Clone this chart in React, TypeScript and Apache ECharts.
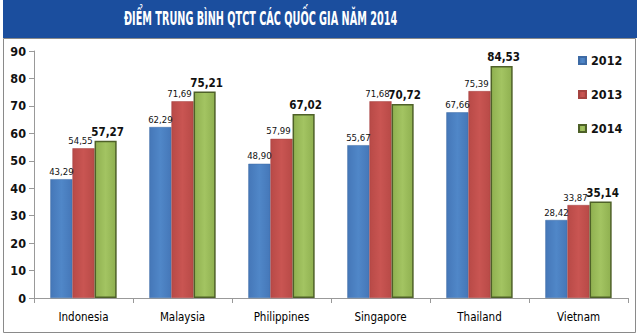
import React, { useEffect, useRef } from "react";
import * as echarts from "echarts";

const categories = ["Indonesia", "Malaysia", "Philippines", "Singapore", "Thailand", "Vietnam"];
const years = ["2012", "2013", "2014"];
const values2012 = [43.29, 62.29, 48.9, 55.67, 67.66, 28.42];
const values2013 = [54.55, 71.69, 57.99, 71.68, 75.39, 33.87];
const values2014 = [57.27, 75.21, 67.02, 70.72, 84.53, 35.14];
const yTicks = { min: 0, max: 90, interval: 10 };
const titleText = "ĐIỂM TRUNG BÌNH QTCT CÁC QUỐC GIA NĂM 2014";

const COND = "DejaVu Sans Condensed";

const fmt = (p: any) => Number(p.value).toFixed(2).replace(".", ",");

export default function App() {
  const ref = useRef<HTMLDivElement>(null);
  useEffect(() => {
    document.body.style.margin = "0";
    const chart = echarts.init(ref.current!, null, { renderer: "svg" });
    const titleFont = `bold 19px "${COND}"`;
    let scaleX = 0.7;
    try {
      const ctx = document.createElement("canvas").getContext("2d")!;
      ctx.font = titleFont;
      const w = ctx.measureText(titleText).width;
      if (w > 0) scaleX = 273 / w;
    } catch (e) {}
    const grad = (c1: string, c2: string) =>
      new echarts.graphic.LinearGradient(0, 0, 1, 0, [
        { offset: 0, color: c1 },
        { offset: 0.5, color: c2 },
        { offset: 1, color: c1 },
      ]);
    const mk = (
      name: string,
      data: number[],
      color: any,
      border: string,
      bold: boolean,
      dx: number
    ) => ({
      name,
      type: "bar",
      data,
      barGap: "0%",
      barCategoryGap: "33%",
      itemStyle: { color, borderColor: border, borderWidth: bold ? 1.5 : 0.5 },
      label: {
        show: true,
        position: "top",
        formatter: fmt,
        fontFamily: COND,
        fontSize: bold ? 11.5 : 9.5,
        fontWeight: bold ? "bold" : "normal",
        color: "#111",
        distance: 3,
        offset: [dx, 0],
      },
    });
    chart.setOption({
      animation: false,
      textStyle: { fontFamily: COND },
      color: ["#4a7ebb", "#c0504d", "#9bbb59"],
      graphic: [
        { type: "rect", shape: { x: 3, y: 0, width: 634, height: 38 }, style: { fill: "#1b4e9e" } },
        {
          type: "rect",
          shape: { x: 3.5, y: 38.5, width: 632, height: 294 },
          style: { fill: "none", stroke: "#8a8a8a", lineWidth: 1 },
        },
        {
          type: "text",
          x: 124,
          y: 19,
          scaleX,
          style: {
            text: titleText,
            fill: "#ffffff",
            font: titleFont,
            textAlign: "left",
            textVerticalAlign: "middle",
          },
        },
      ],
      legend: {
        data: years,
        orient: "vertical",
        left: 573,
        top: 49,
        itemGap: 21,
        itemWidth: 7,
        itemHeight: 7,
        icon: "rect",
        textStyle: { fontFamily: COND, fontSize: 12.5, fontWeight: "bold", color: "#111" },
      },
      grid: { left: 34, right: 12, top: 51, bottom: 38, containLabel: false },
      xAxis: {
        type: "category",
        data: categories,
        axisLine: { lineStyle: { color: "#999" } },
        axisTick: { show: true, lineStyle: { color: "#999" } },
        axisLabel: { fontFamily: COND, fontSize: 11.5, color: "#000", margin: 13 },
      },
      yAxis: {
        type: "value",
        min: yTicks.min,
        max: yTicks.max,
        interval: yTicks.interval,
        axisLine: { show: true, lineStyle: { color: "#999" } },
        axisTick: { show: true, lineStyle: { color: "#999" } },
        splitLine: { show: false },
        axisLabel: { fontFamily: COND, fontSize: 12.5, fontWeight: "bold", color: "#111", margin: 8 },
      },
      series: [
        mk(years[0], values2012, grad("#4577b8", "#5087c8"), "#3d6aa5", false, 0),
        mk(years[1], values2013, grad("#b84a47", "#c95552"), "#a54340", false, -3),
        mk(years[2], values2014, grad("#8fb050", "#a3c462"), "#4e6128", true, 2),
      ],
    });
    return () => chart.dispose();
  }, []);
  return <div ref={ref} style={{ width: 640, height: 336 }} />;
}
